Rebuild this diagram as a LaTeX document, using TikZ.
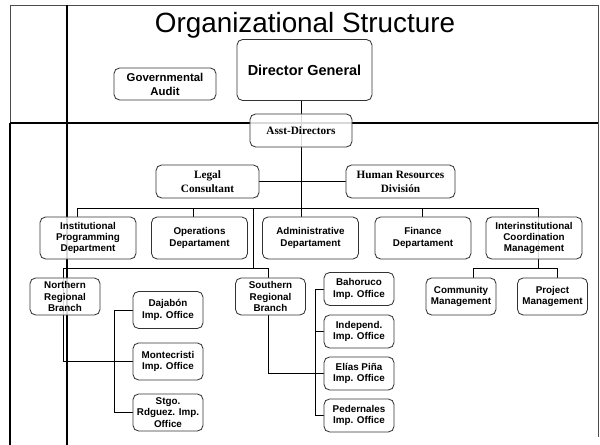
\documentclass[tikz,border=0pt]{standalone}
\usepackage{fontspec}
\setmainfont{Liberation Serif}
\setsansfont{Liberation Sans}
\usetikzlibrary{backgrounds}

\tikzset{
  box/.style={draw=black!80, line width=.6pt, fill=white, fill opacity=.85, text opacity=1,
    rounded corners=4pt, align=center, inner sep=1pt,
    font=\sffamily\bfseries\fontsize{7}{8}\selectfont},
  serifbox/.style={box, minimum height=.825cm, font=\bfseries\fontsize{8}{10}\selectfont},
  dept/.style={box, minimum width=2.4cm, minimum height=1.05cm},
  branch/.style={box, minimum width=1.75cm, minimum height=.925cm},
  office/.style={box, minimum width=1.75cm, minimum height=.825cm},
  link/.style={draw=black, line width=.5pt},
  frame/.style={draw=black!70, line width=.5pt},
  heavy/.style={draw=black, line width=1.1pt}
}

\begin{document}
\begin{tikzpicture}[x=0.025cm, y=-0.025cm]
  \useasboundingbox (0,0) rectangle (600,445);

  \node[anchor=base, font=\sffamily\fontsize{19.8}{22}\selectfont] (title) at (305,33) {Organizational Structure};

  \node[box, minimum width=2.55cm, minimum height=.8cm, font=\sffamily\bfseries\fontsize{8.1}{10}\selectfont] (gov) at (165,84) {Governmental\\Audit};
  \node[box, minimum width=3.375cm, minimum height=1.525cm, font=\sffamily\bfseries\fontsize{10.3}{12}\selectfont] (dg) at (304.5,70) {Director General};
  \node[serifbox, minimum width=2.55cm] (asst) at (301,130.5) {Asst-Directors};
  \node[serifbox, minimum width=2.575cm] (legal) at (207.5,181.5) {Legal\\Consultant};
  \node[serifbox, minimum width=2.725cm] (hr) at (400.5,181.5) {Human Resources\\División};

  \node[dept] (inst) at (88,238) {Institutional\\Programming\\Department};
  \node[dept] (oper) at (199.5,238) {Operations\\Departament};
  \node[dept] (admin) at (310.5,238) {Administrative\\Departament};
  \node[dept] (fin) at (423,238) {Finance\\Departament};
  \node[dept] (inter) at (534,238) {Interinstitutional\\Coordination\\Management};

  \node[branch] (north) at (65,296.5) {Northern\\Regional\\Branch};
  \node[branch] (south) at (270.5,296.5) {Southern\\Regional\\Branch};
  \node[branch] (comm) at (461,296.5) {Community\\Management};
  \node[branch] (proj) at (552.5,296.5) {Project\\Management};

  \node[branch] (daja) at (168,310) {Dajabón\\Imp. Office};
  \node[branch] (monte) at (168,361.5) {Montecristi\\Imp. Office};
  \node[branch] (stgo) at (168,412.5) {Stgo.\\Rdguez. Imp.\\Office};

  \node[office] (baho) at (359,289) {Bahoruco\\Imp. Office};
  \node[office] (indep) at (359,331.5) {Independ.\\Imp. Office};
  \node[office] (elias) at (359,373.5) {Elías Piña\\Imp. Office};
  \node[office] (peder) at (359,415.5) {Pedernales\\Imp. Office};

  \begin{scope}[on background layer]
    \draw[frame] (10,5) rectangle (598,123);
    \draw[frame] (598,123) -- (598,437);
    \draw[heavy] (10,123) -- (598,123);
    \draw[heavy] (10,123) -- (10,445);
    \draw[heavy] (67,5) -- (67,445);

    \draw[link] (dg.south -| asst.north) -- (admin.north -| asst.north);
    \draw[link] (legal.east) -- (hr.west);

    \coordinate (busl) at (77,208);
    \coordinate (busr) at (538,208);
    \draw[link] (busl) -- (busr);
    \foreach \nn/\xx in {inst/77, oper/193, fin/422, inter/538}{
      \coordinate (d-\nn) at (\xx,208);
      \draw[link] (d-\nn) -- (\nn.north -| d-\nn);
    }

    \coordinate (tap) at (253,208);
    \coordinate (rowl) at (63,268);
    \coordinate (rowr) at (268,268);
    \draw[link] (tap) -- (tap |- rowl);
    \draw[link] (rowl) -- (rowr) -- (south.north -| rowr);
    \draw[link] (rowl) -- (rowl |- monte.west) -- (monte.west);

    \coordinate (nbr) at (114,300);
    \draw[link] (daja.west) -| (nbr |- stgo.west) -- (stgo.west);

    \draw[link] (south.south -| rowr) -- (rowr |- elias.west) -- (elias.west);
    \coordinate (sbr) at (315,300);
    \draw[link] (baho.west) -| (sbr |- peder.west) -- (peder.west);
    \draw[link] (indep.west) -- (indep.west -| sbr);

    \coordinate (cml) at (473,268);
    \coordinate (cmr) at (557,268);
    \draw[link] (d-inter) -- (d-inter |- cml);
    \draw[link] (comm.north -| cml) -- (cml) -- (cmr) -- (proj.north -| cmr);
  \end{scope}
\end{tikzpicture}
\end{document}
